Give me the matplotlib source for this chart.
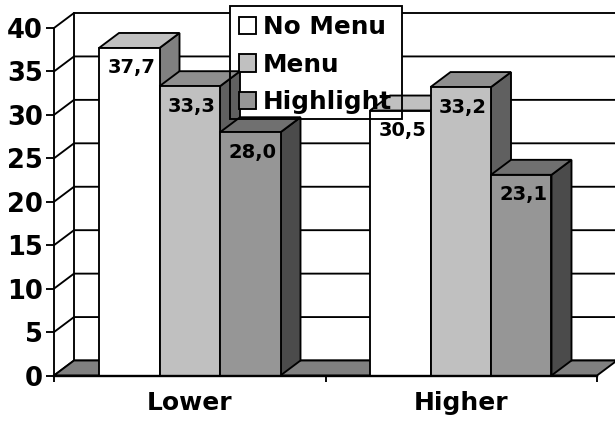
import matplotlib
matplotlib.use('Agg')
import matplotlib.pyplot as plt
from matplotlib.patches import Polygon, Rectangle

plt.rcParams['font.family'] = ['DejaVu Sans']
plt.rcParams['font.weight'] = 'bold'

categories = ['Lower', 'Higher']
series_names = ['No Menu', 'Menu', 'Highlight']
no_menu = [37.7, 30.5]
menu = [33.3, 33.2]
highlight = [28.0, 23.1]
value_labels = ['37,7', '33,3', '28,0', '30,5', '33,2', '23,1']
y_ticks = [0, 5, 10, 15, 20, 25, 30, 35, 40]

front_colors = ['#ffffff', '#c0c0c0', '#969696']
top_colors = ['#c0c0c0', '#8f8f8f', '#707070']
side_colors = ['#808080', '#606060', '#4b4b4b']

W, H = 615, 421
fig = plt.figure(figsize=(W / 100, H / 100), dpi=100)
# plot front plane in figure pixels: x 54..597, y 375.5..28
ax = fig.add_axes([54 / W, 1 - 375.5 / H, 543 / W, 347.5 / H])
ax.set_xlim(0, 2)
ax.set_ylim(0, 40)
ax.patch.set_visible(False)
for s in ['top', 'right']:
    ax.spines[s].set_visible(False)
ax.spines['left'].set_linewidth(1.35)
ax.spines['left'].set_zorder(1)
ax.spines['bottom'].set_linewidth(1.7)
ax.spines['bottom'].set_zorder(6)

# depth of the 3D box, in data units
dx = 20 / 271.5
dy = 15 / 8.6875
lw = 1.35

# back walls and gridlines
for v in y_ticks:
    ax.plot([0, dx, 2 + dx], [v, v + dy, v + dy], color='black', lw=lw, zorder=1, clip_on=False)
ax.plot([dx, dx], [dy, 40 + dy], color='black', lw=lw, zorder=1, clip_on=False)
ax.add_patch(Polygon([(0, 0), (dx, dy), (2 + dx, dy), (2, 0)], closed=True, fc='#808080',
                     ec='black', lw=lw, zorder=1, clip_on=False))

# legend box sits under the bars, its outline and entries above them
p0 = ax.transData.inverted().transform((230, H - 119))
p1 = ax.transData.inverted().transform((402, H - 6))
ax.add_patch(Rectangle(p0, p1[0] - p0[0], p1[1] - p0[1], fc='white', ec='none',
                       zorder=2, clip_on=False))
ax.add_patch(Rectangle(p0, p1[0] - p0[0], p1[1] - p0[1], fc='none', ec='black', lw=lw,
                       zorder=5, clip_on=False))

# bars
bar_w = 60.5 / 271.5
starts = [45 / 271.5, 316 / 271.5]
all_series = [no_menu, menu, highlight]
k = 0
for c in range(2):
    for i, vals in enumerate(all_series):
        v = vals[c]
        x0 = starts[c] + i * bar_w
        x1 = x0 + bar_w
        z = 3 + i * 0.1
        ax.add_patch(Polygon([(x1, 0), (x1 + dx, dy), (x1 + dx, v + dy), (x1, v)], closed=True,
                             fc=side_colors[i], ec='black', lw=lw, zorder=z, clip_on=False))
        ax.add_patch(Polygon([(x0, v), (x0 + dx, v + dy), (x1 + dx, v + dy), (x1, v)], closed=True,
                             fc=top_colors[i], ec='black', lw=lw, zorder=z, clip_on=False))
        ax.add_patch(Rectangle((x0, 0), bar_w, v, fc=front_colors[i], ec='black', lw=lw,
                               zorder=z, clip_on=False))
        ax.text(x0 + bar_w / 2 + 0.008, v - 2.3, value_labels[k], ha='center', va='center',
                fontsize=14, fontweight='bold', zorder=7)
        k += 1

# legend entries
handles = [Rectangle((0, 0), 1, 1, fc=front_colors[i], ec='black', lw=lw) for i in range(3)]
leg = ax.legend(handles, series_names, loc='upper left', bbox_to_anchor=(239 / W, 1 - 15 / H),
                bbox_transform=fig.transFigure, frameon=False, fontsize=17.8,
                handlelength=0.69, handleheight=0.69, handletextpad=0.28, labelspacing=0.55,
                borderpad=0, borderaxespad=0)
leg.set_zorder(8)

ax.set_xticks([0, 1, 2])
ax.set_xticklabels([])
ax.set_yticks(y_ticks)
ax.set_yticklabels([str(v) for v in y_ticks], fontsize=18.5)
ax.tick_params(axis='y', length=6, width=1.35, pad=2)
ax.tick_params(axis='x', length=4.5, width=1.35)
for i, name in enumerate(categories):
    ax.text(i + 0.5, -3.2, name, ha='center', va='center', fontsize=18, fontweight='bold')

fig.savefig('out.png', dpi=100)
